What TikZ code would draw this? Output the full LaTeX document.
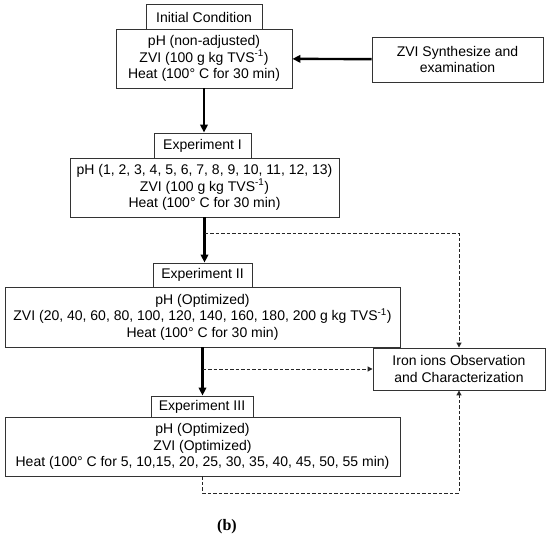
\documentclass[tikz,border=0pt]{standalone}
\usepackage{fontspec}
\setmainfont{Liberation Sans}
\newfontfamily\capfont{Liberation Serif}
\usetikzlibrary{positioning,arrows.meta}

\begin{document}
\begin{tikzpicture}[x=1pt,y=-1pt,
  tabbox/.style={rectangle,draw=black!80,line width=0.9pt,fill=white,
    font=\fontsize{14}{16}\selectfont,inner sep=0pt,align=center},
  stage/.style={rectangle,draw=black!80,line width=0.9pt,fill=white,
    font=\fontsize{14}{16.5}\selectfont,inner sep=0pt,align=center},
  arr/.style={-{Triangle[length=8pt,width=7.5pt]},black,line width=2.4pt},
  dsh/.style={-{Triangle[length=5pt,width=5pt]},black!85,line width=1pt,
    dash pattern=on 3.5pt off 2pt}
]
\useasboundingbox (0,0) rectangle (550,543);

% main column
\node[stage,minimum width=176pt,minimum height=59pt] (C0) at (204,58.5)
  {pH (non-adjusted)\\ZVI (100 g kg TVS\textsuperscript{-1})\\Heat (100° C for 30 min)};
\node[tabbox,minimum width=116pt,minimum height=25pt] (T0) at (204,17)
  {Initial Condition};

\node[stage,minimum width=269pt,minimum height=59pt] (C1) at (204.5,187.5)
  {pH (1, 2, 3, 4, 5, 6, 7, 8, 9, 10, 11, 12, 13)\\ZVI (100 g kg TVS\textsuperscript{-1})\\Heat (100° C for 30 min)};
\node[tabbox,minimum width=97pt,minimum height=25pt] (T1) at (202.5,145.5)
  {Experiment I};

\node[stage,minimum width=395pt,minimum height=60pt] (C2) at (202.5,317)
  {pH (Optimized)\\ZVI (20, 40, 60, 80, 100, 120, 140, 160, 180, 200 g kg TVS\textsuperscript{-1})\\Heat (100° C for 30 min)};
\node[tabbox,minimum width=99pt,minimum height=24pt] (T2) at (202.5,275)
  {Experiment II};

\node[stage,minimum width=395pt,minimum height=59pt] (C3) at (202.5,446.5)
  {pH (Optimized)\\ZVI (Optimized)\\Heat (100° C for 5, 10,15, 20, 25, 30, 35, 40, 45, 50, 55 min)};
\node[tabbox,minimum width=102pt,minimum height=21pt] (T3) at (202,406.5)
  {Experiment III};

% side boxes
\node[stage,minimum width=171pt,minimum height=45pt] (ZS) at (457.5,59.5)
  {ZVI Synthesize and\\examination};
\node[stage,minimum width=172pt,minimum height=42pt] (FE) at (459,369)
  {Iron ions Observation\\and Characterization};

\node[font=\capfont\bfseries\fontsize{16}{18}\selectfont] (CAP) at (227,527) {(b)};

\draw[arr] (ZS) -- (C0);
\draw[arr] (C0.south) -- (C0.south |- T1.north);
\draw[arr] (C1.south) -- (C1.south |- T2.north);
\draw[arr] (C2.south) -- (C2.south |- T3.north);

% dashed links to the observation box
\coordinate (D1) at (204.5,234);
\coordinate (D2) at (202.5,369);
\coordinate (D3) at (202.5,493);
\draw[dsh] (D1) -| (FE.north);
\draw[dsh] (D2) -- (FE.west);
\draw[dsh] (C3.south) -- (D3) -| (FE.south);
\end{tikzpicture}
\end{document}
